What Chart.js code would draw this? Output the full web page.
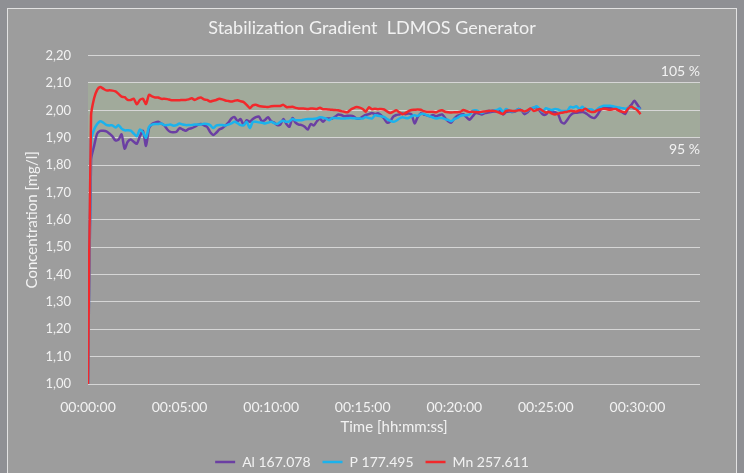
<!DOCTYPE html>
<html>
<head>
<meta charset="utf-8">
<script src="https://cdn.jsdelivr.net/npm/chart.js@4.4.1/dist/chart.umd.min.js"></script>
<style>
  html, body { margin: 0; padding: 0; background: #8f9094; }
</style>
</head>
<body>
<canvas id="myChart" width="744" height="473"></canvas>
<script>
  // one reading every 10 s
  const sampleSeconds = 10;
  const xTickLabels = ['00:00:00', '00:05:00', '00:10:00', '00:15:00', '00:20:00', '00:25:00', '00:30:00'];
  const seriesNames = ['Al 167.078', 'P 177.495', 'Mn 257.611'];

  const al = [
    1.00, 1.82, 1.87, 1.915, 1.925, 1.925, 1.923, 1.915, 1.905, 1.89,
    1.893, 1.912, 1.86, 1.885, 1.893, 1.885, 1.878, 1.905, 1.925, 1.87,
    1.935, 1.95, 1.955, 1.958, 1.952, 1.945, 1.93, 1.921, 1.92, 1.922,
    1.935, 1.93, 1.925, 1.932, 1.935, 1.94, 1.947, 1.95, 1.945, 1.94,
    1.921, 1.91, 1.918, 1.93, 1.935, 1.944, 1.955, 1.97, 1.975, 1.96,
    1.968, 1.946, 1.964, 1.958, 1.968, 1.975, 1.977, 1.96, 1.965, 1.975,
    1.96, 1.955, 1.946, 1.948, 1.968, 1.95, 1.94, 1.972, 1.955, 1.948,
    1.946, 1.94, 1.93, 1.95, 1.945, 1.96, 1.97, 1.958, 1.97, 1.97,
    1.97, 1.977, 1.985, 1.983, 1.978, 1.98, 1.98, 1.978, 1.97, 1.97,
    1.977, 1.983, 1.986, 1.99, 1.987, 1.989, 1.982, 1.97, 1.955, 1.96,
    1.977, 1.983, 1.985, 1.988, 1.986, 1.988, 1.985, 1.952, 1.975, 1.989,
    1.985, 1.982, 1.978, 1.983, 1.978, 1.982, 1.985, 1.972, 1.96, 1.955,
    1.97, 1.98, 1.984, 1.986, 1.975, 1.966, 1.978, 1.99, 1.988, 1.985,
    1.99, 1.992, 1.994, 1.996, 1.996, 1.998, 1.985, 1.994, 1.996, 1.994,
    1.996, 2.005, 2.0, 1.986, 1.993, 2.005, 2.009, 2.012, 1.998, 1.985,
    1.985, 1.998, 1.995, 1.993, 1.986, 1.958, 1.952, 1.965, 1.981, 1.99,
    1.991, 1.993, 1.994, 1.99, 1.982, 1.974, 1.972, 1.985, 2.003, 2.01,
    2.009, 2.008, 2.007, 2.006, 2.0, 1.993, 1.987, 2.008, 2.02, 2.035,
    2.02, 2.005
  ];
  const p = [
    1.00, 1.89, 1.93, 1.95, 1.96, 1.955, 1.947, 1.945, 1.945, 1.937,
    1.946, 1.933, 1.927, 1.927, 1.926, 1.915, 1.905, 1.93, 1.92, 1.90,
    1.94, 1.948, 1.95, 1.95, 1.952, 1.946, 1.946, 1.948, 1.944, 1.946,
    1.952, 1.948, 1.946, 1.946, 1.946, 1.948, 1.948, 1.948, 1.951, 1.95,
    1.946, 1.935, 1.944, 1.946, 1.946, 1.945, 1.948, 1.952, 1.958, 1.953,
    1.946, 1.946, 1.958, 1.935, 1.958, 1.958, 1.956, 1.955, 1.952, 1.955,
    1.958, 1.953, 1.95, 1.958, 1.962, 1.958, 1.96, 1.968, 1.964, 1.964,
    1.964, 1.967, 1.968, 1.968, 1.969, 1.97, 1.975, 1.973, 1.97, 1.964,
    1.972, 1.972, 1.971, 1.97, 1.97, 1.971, 1.972, 1.971, 1.97, 1.97,
    1.97, 1.976, 1.972, 1.97, 1.982, 1.98, 1.978, 1.976, 1.968, 1.962,
    1.958, 1.962, 1.97, 1.975, 1.972, 1.972, 1.978, 1.982, 1.979, 1.986,
    1.987, 1.982, 1.978, 1.974, 1.97, 1.972, 1.972, 1.968, 1.965, 1.96,
    1.968, 1.972, 1.98, 1.982, 1.982, 1.985, 1.998, 2.0, 1.996, 1.99,
    1.995, 1.998, 1.998, 2.0, 2.001, 2.007, 1.994, 2.005, 1.998, 1.996,
    1.998, 2.004, 2.0, 1.994, 1.998, 2.007, 2.01, 2.015, 2.004, 1.995,
    2.008, 2.004, 2.001, 2.005, 2.003, 1.998, 1.998, 1.998, 2.013, 2.01,
    2.015, 2.005, 2.013, 2.002, 2.004, 2.003, 1.997, 2.006, 2.013, 2.017,
    2.017, 2.017, 2.015, 2.012, 2.01, 2.008, 2.006, 2.01, 2.012, 2.006,
    2.007, 2.005
  ];
  const mn = [
    1.00, 1.98, 2.044, 2.075, 2.085, 2.079, 2.073, 2.073, 2.072, 2.069,
    2.06, 2.05, 2.048, 2.038, 2.038, 2.042, 2.022, 2.038, 2.042, 2.023,
    2.057, 2.051, 2.047, 2.047, 2.042, 2.042, 2.041, 2.038, 2.037, 2.037,
    2.037, 2.038, 2.038, 2.04, 2.044, 2.038, 2.044, 2.047, 2.04, 2.038,
    2.032, 2.035, 2.038, 2.042, 2.04, 2.036, 2.034, 2.032, 2.035, 2.037,
    2.033, 2.03, 2.02, 2.008, 2.018, 2.02, 2.016, 2.014, 2.013, 2.012,
    2.015, 2.016, 2.016, 2.016, 2.02, 2.012, 2.012, 2.013, 2.009, 2.007,
    2.007, 2.006, 2.005, 2.007, 2.006, 2.005, 2.009, 2.004, 2.004, 2.003,
    2.002, 2.001, 2.0, 1.997, 1.995, 1.993, 2.002, 2.008, 2.012, 2.01,
    2.005, 1.995, 2.011, 2.004, 2.006, 2.004, 2.005, 2.003, 1.996, 1.99,
    1.995, 2.0, 1.993, 1.986, 1.99, 1.997, 2.001, 2.002, 2.003, 2.002,
    1.997, 1.995, 1.995, 1.995, 1.993, 1.998, 2.0, 1.995, 1.993, 1.992,
    1.993, 1.993, 1.995, 2.001, 1.997, 1.994, 1.995, 1.994, 1.993, 1.995,
    1.996, 1.998, 1.998, 1.998, 1.995, 1.99, 1.987, 1.998, 1.999, 1.998,
    1.998, 2.0, 2.0, 1.996, 2.0, 2.007, 1.998, 2.001, 2.005, 1.998,
    1.992, 1.994, 1.988, 1.985, 1.988, 1.991, 1.993, 1.995, 1.998, 1.997,
    1.996, 2.0, 2.0, 2.006, 1.998, 1.994, 1.995, 2.001, 2.004, 2.006,
    2.004, 2.002, 2.004, 2.005, 1.998, 1.995, 1.993, 2.007, 2.013, 2.007,
    2.0, 1.986
  ];

  // tolerance band around the 2,00 mg/l target
  const bandLow = 1.90;
  const bandHigh = 2.10;
  const bandLabels = ['105 %', '95 %'];

  const txt = '#f2f2f2';
  const fontFam = 'Lato, "Open Sans", sans-serif';

  const toPoints = arr => arr.map((v, i) => ({ x: i * sampleSeconds, y: v }));

  const bgPlugin = {
    id: 'bg',
    beforeDraw(chart) {
      const { ctx, chartArea: a, scales: { y } } = chart;
      ctx.save();
      ctx.fillStyle = '#8f9094';
      ctx.fillRect(0, 0, chart.width, chart.height);
      ctx.fillStyle = '#9d9d9d';
      ctx.fillRect(7, 8, 730, 480);
      ctx.strokeStyle = '#e2e2e2';
      ctx.lineWidth = 1;
      ctx.strokeRect(7.5, 8.5, 729, 480);
      const top = y.getPixelForValue(bandHigh);
      const bot = y.getPixelForValue(bandLow);
      ctx.fillStyle = '#a1aa9b';
      ctx.fillRect(a.left, top, a.right - a.left, bot - top);
      ctx.fillStyle = txt;
      ctx.font = '14px ' + fontFam;
      ctx.textAlign = 'right';
      ctx.textBaseline = 'middle';
      ctx.fillText(bandLabels[0], a.right, top - 11);
      ctx.fillText(bandLabels[1], a.right, bot + 12);
      ctx.restore();
    }
  };

  const ctx = document.getElementById('myChart');
  new Chart(ctx, {
    type: 'line',
    data: {
      datasets: [
        { label: seriesNames[0], data: toPoints(al), borderColor: '#6b3fa3', backgroundColor: '#6b3fa3', order: 3 },
        { label: seriesNames[1], data: toPoints(p), borderColor: '#1bb2ec', backgroundColor: '#1bb2ec', order: 2 },
        { label: seriesNames[2], data: toPoints(mn), borderColor: '#f2282b', backgroundColor: '#f2282b', order: 1 }
      ]
    },
    options: {
      responsive: false,
      animation: false,
      datasets: { line: { borderWidth: 2.5, pointRadius: 0, tension: 0.25 } },
      layout: { padding: { left: 0, right: 0, top: 8, bottom: -6 } },
      plugins: {
        title: {
          display: true,
          text: 'Stabilization Gradient  LDMOS Generator',
          color: txt,
          font: { family: fontFam, size: 18, weight: 'normal' },
          padding: { top: 9, bottom: 17 }
        },
        legend: {
          position: 'bottom',
          labels: {
            color: txt,
            font: { family: fontFam, size: 14 },
            usePointStyle: true,
            pointStyle: 'line',
            pointStyleWidth: 20,
            padding: 12,
            sort: (a, b) => a.datasetIndex - b.datasetIndex
          }
        },
        tooltip: { enabled: false }
      },
      scales: {
        x: {
          type: 'linear',
          min: 0,
          max: 2005,
          afterFit: s => { s.height = 59; },
          grid: { display: false },
          border: { display: false },
          ticks: {
            stepSize: 300,
            includeBounds: false,
            autoSkip: false,
            maxRotation: 0,
            padding: 7,
            color: txt,
            font: { family: fontFam, size: 14 },
            callback: v => (v % 300 === 0 ? xTickLabels[v / 300] : '')
          },
          title: {
            display: true,
            text: 'Time [hh:mm:ss]',
            color: txt,
            font: { family: fontFam, size: 15 },
            padding: { top: 2, bottom: 7 }
          }
        },
        y: {
          min: 1.0,
          max: 2.2,
          afterFit: s => { s.width = 88; },
          grid: { color: '#d6d6d6', lineWidth: 1, drawTicks: false },
          border: { display: false },
          ticks: {
            stepSize: 0.1,
            padding: 17,
            color: txt,
            font: { family: fontFam, size: 13 },
            callback: v => v.toFixed(2).replace('.', ',')
          },
          title: {
            display: true,
            text: 'Concentration [mg/l]',
            color: txt,
            font: { family: fontFam, size: 15 },
            padding: { top: 23, bottom: 4 }
          }
        },
        yRight: {
          position: 'right',
          min: 1.0,
          max: 2.2,
          afterFit: s => { s.width = 44; },
          grid: { display: false },
          border: { display: false },
          ticks: { display: false }
        }
      }
    },
    plugins: [bgPlugin]
  });
</script>
</body>
</html>
